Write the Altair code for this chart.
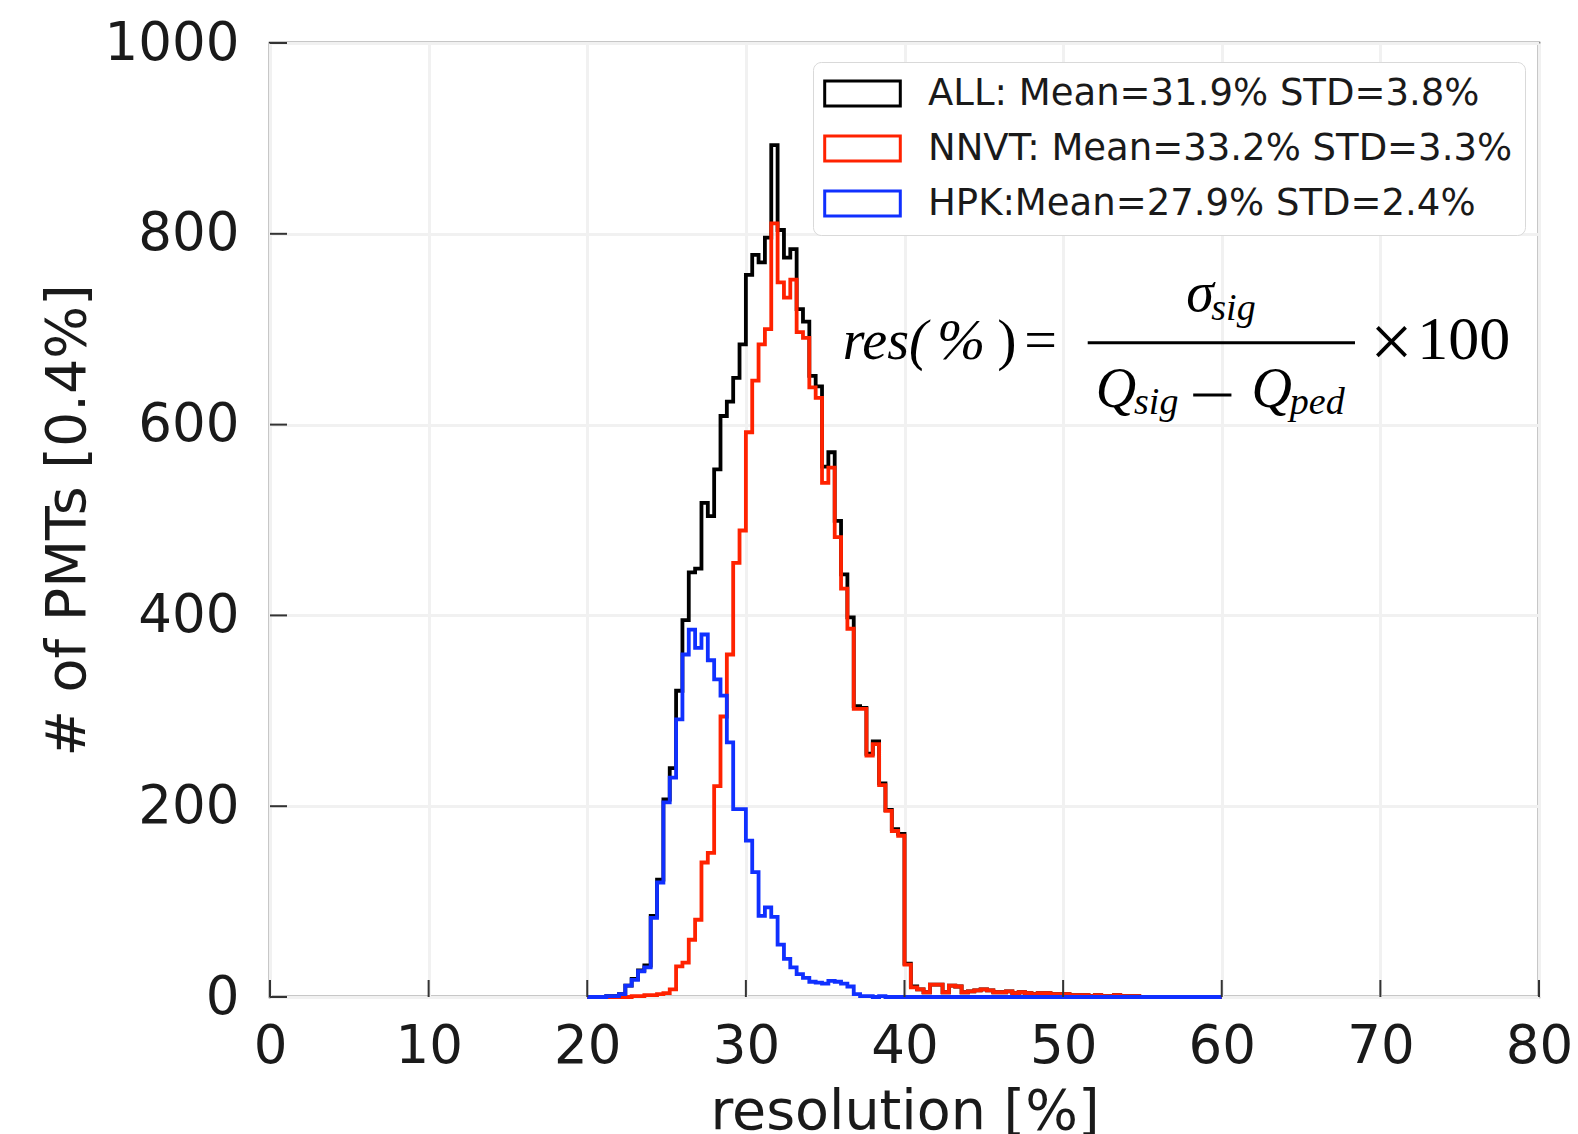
import altair as alt
import pandas as pd

# ---------------- data (bins of 0.4 % starting at 20 %) ----------------
BIN_START = 20.0
BIN_WIDTH = 0.4

ALL_COUNTS = [
    0, 0, 0, 1, 1, 3, 12, 19, 28, 33,
    85, 123, 207, 240, 321, 395, 445, 449, 518, 504,
    553, 609, 624, 649, 684, 757, 778, 770, 796, 893,
    804, 775, 784, 721, 708, 651, 640, 556, 571, 499,
    443, 398, 305, 303, 255, 268, 224, 196, 176, 171,
    35, 11, 8, 5, 13, 13, 5, 12, 11, 5,
    6, 7, 8, 7, 5, 5, 6, 4, 5, 4,
    3, 4, 4, 3, 3, 3, 2, 2, 2, 1,
    2, 1, 1, 2, 1, 1, 1, 0, 0, 0,
    0, 0, 0, 0, 0, 0, 0, 0, 0, 0,
]
NNVT_COUNTS = [
    0, 0, 0, 0, 0, 0, 0, 1, 1, 2,
    2, 3, 4, 8, 32, 36, 60, 81, 141, 151,
    221, 294, 359, 455, 489, 592, 646, 684, 700, 811,
    749, 733, 752, 697, 691, 639, 628, 539, 555, 482,
    428, 386, 302, 302, 253, 265, 222, 195, 174, 169,
    34, 10, 8, 5, 13, 13, 5, 12, 11, 5,
    6, 7, 8, 7, 5, 5, 6, 4, 5, 4,
    3, 4, 4, 3, 3, 3, 2, 2, 2, 1,
    2, 1, 1, 2, 1, 1, 1, 0, 0, 0,
    0, 0, 0, 0, 0, 0, 0, 0, 0, 0,
]
HPK_COUNTS = [
    0, 0, 0, 1, 1, 3, 12, 18, 27, 31,
    83, 120, 204, 230, 291, 359, 385, 366, 380, 353,
    333, 316, 267, 197, 197, 164, 131, 85, 94, 84,
    55, 40, 31, 24, 20, 16, 15, 14, 17, 16,
    14, 11, 3, 1, 1, 0, 1, 0, 0, 0,
    0, 0, 0, 0, 0, 0, 0, 0, 0, 0,
    0, 0, 0, 0, 0, 0, 0, 0, 0, 0,
    0, 0, 0, 0, 0, 0, 0, 0, 0, 0,
    0, 0, 0, 0, 0, 0, 0, 0, 0, 0,
    0, 0, 0, 0, 0, 0, 0, 0, 0, 0,
]

SERIES_NAMES = [
    "ALL: Mean=31.9% STD=3.8%",
    "NNVT: Mean=33.2% STD=3.3%",
    "HPK:Mean=27.9% STD=2.4%",
]
SERIES_COLORS = ["#000000", "#ff2200", "#1030ff"]

X_TICKS = [0, 10, 20, 30, 40, 50, 60, 70, 80]
Y_TICKS = [0, 200, 400, 600, 800, 1000]

# formula annotation (data coordinates)
F_ITALIC_TEXT = ["res(", "%", "σ", "sig", "Q", "sig", "Q", "ped"]
F_ITALIC_X = [36.10, 42.05, 57.76, 59.34, 52.06, 54.47, 61.88, 64.29]
F_ITALIC_Y = [669, 669, 718.6, 710, 618.4, 611, 618.4, 611]
F_ITALIC_SIZE = [56, 58, 56, 38, 56, 38, 56, 38]
F_UPRIGHT_TEXT = [")", "=", "×", "100"]
F_UPRIGHT_X = [45.85, 47.55, 69.35, 72.33]
F_UPRIGHT_Y = [669, 669, 660, 669]
F_UPRIGHT_SIZE = [58, 58, 76, 62]
F_RULE_X = [51.55, 58.20]
F_RULE_X2 = [68.40, 60.61]
F_RULE_Y = [685.9, 631.0]

W, H = 1269, 954


def step_rows(name, counts):
    n = len(counts)
    edges = [round(BIN_START + BIN_WIDTH * i, 1) for i in range(n + 1)]
    rows = [{"series": name, "x": edges[0], "y": 0, "k": 0}]
    for i, c in enumerate(counts):
        rows.append({"series": name, "x": edges[i], "y": c, "k": i + 1})
    rows.append({"series": name, "x": edges[n], "y": 0, "k": n + 1})
    return rows


rows = []
for nm, cts in zip(SERIES_NAMES, [ALL_COUNTS, NNVT_COUNTS, HPK_COUNTS]):
    rows += step_rows(nm, cts)
step_df = pd.DataFrame(rows)

FONT = "DejaVu Sans"
TXT = "#1a1a1a"

x_scale = alt.Scale(domain=[0, 80], nice=False, zero=False)
y_scale = alt.Scale(domain=[0, 1000], nice=False)

x_axis = alt.Axis(
    values=X_TICKS, grid=True, gridColor="#f1f1f1", gridWidth=3,
    ticks=False, tickSize=0, domain=False, format="d",
    labelFont=FONT, labelFontSize=53, labelColor=TXT, labelPadding=23,
    labelFlush=False, labelOverlap=False,
    title="resolution [%]", titleFont=FONT, titleFontSize=55.5,
    titleFontWeight="normal", titleColor=TXT, titlePadding=11,
)
y_axis = alt.Axis(
    values=Y_TICKS, grid=True, gridColor="#f1f1f1", gridWidth=3,
    ticks=False, tickSize=0, domain=False, format="d",
    labelFont=FONT, labelFontSize=53, labelColor=TXT, labelPadding=31,
    labelOverlap=False,
    title="# of PMTs [0.4%]", titleFont=FONT, titleFontSize=55.5,
    titleFontWeight="normal", titleColor=TXT, titlePadding=8,
)
legend = alt.Legend(
    title=None, orient="none", legendX=543, legendY=19, direction="vertical",
    symbolType="M-2.1,-0.7H2.1V0.7H-2.1Z", symbolSize=1296,
    symbolStrokeWidth=3, symbolFillColor="white", symbolOffset=18,
    labelFont=FONT, labelFontSize=37, labelColor=TXT, labelLimit=1000,
    labelOffset=46, rowPadding=16, padding=12,
    fillColor="white", strokeColor="#d9d9d9", cornerRadius=8,
)
color = alt.Color(
    "series:N",
    scale=alt.Scale(domain=SERIES_NAMES, range=SERIES_COLORS),
    legend=legend,
)

layers = []
for nm in SERIES_NAMES:
    layers.append(
        alt.Chart(step_df)
        .transform_filter(alt.datum.series == nm)
        .mark_line(interpolate="step-after", strokeWidth=3.8)
        .encode(
            x=alt.X("x:Q", scale=x_scale, axis=x_axis),
            y=alt.Y("y:Q", scale=y_scale, axis=y_axis),
            color=color,
            order=alt.Order("k:Q"),
        )
    )

xt_df = pd.DataFrame({"v": X_TICKS})
yt_df = pd.DataFrame({"v": Y_TICKS})
x_ticks = alt.Chart(xt_df).mark_rule(color="#333333", strokeWidth=2).encode(
    x=alt.X("v:Q", scale=x_scale), y=alt.value(H), y2=alt.value(H - 17)
)
y_ticks = alt.Chart(yt_df).mark_rule(color="#333333", strokeWidth=2).encode(
    y=alt.Y("v:Q", scale=y_scale), x=alt.value(0), x2=alt.value(17)
)

fi_df = pd.DataFrame({"t": F_ITALIC_TEXT, "x": F_ITALIC_X, "y": F_ITALIC_Y, "s": F_ITALIC_SIZE})
fu_df = pd.DataFrame({"t": F_UPRIGHT_TEXT, "x": F_UPRIGHT_X, "y": F_UPRIGHT_Y, "s": F_UPRIGHT_SIZE})
fr_df = pd.DataFrame({"x": F_RULE_X, "x2": F_RULE_X2, "y": F_RULE_Y})

f_italic = alt.Chart(fi_df).mark_text(
    font="Liberation Serif", fontStyle="italic", align="left",
    baseline="alphabetic", color="#000000",
).encode(
    x=alt.X("x:Q", scale=x_scale), y=alt.Y("y:Q", scale=y_scale),
    text="t:N", size=alt.Size("s:Q", scale=None, legend=None),
)
f_upright = alt.Chart(fu_df).mark_text(
    font="Liberation Serif", align="left", baseline="alphabetic", color="#000000",
).encode(
    x=alt.X("x:Q", scale=x_scale), y=alt.Y("y:Q", scale=y_scale),
    text="t:N", size=alt.Size("s:Q", scale=None, legend=None),
)
f_rules = alt.Chart(fr_df).mark_rule(color="#000000", strokeWidth=3).encode(
    x=alt.X("x:Q", scale=x_scale), x2="x2:Q", y=alt.Y("y:Q", scale=y_scale)
)

chart = (
    alt.layer(*layers, x_ticks, y_ticks, f_rules, f_italic, f_upright)
    .properties(
        width=W, height=H,
        autosize=alt.AutoSizeParams(type="none"),
        padding={"left": 262, "top": 35, "right": 31, "bottom": 137},
        background="white",
    )
    .configure_view(stroke="#222222", strokeWidth=2.5)
)

chart.save("out.html", embed_options={"renderer": "svg", "actions": False})
